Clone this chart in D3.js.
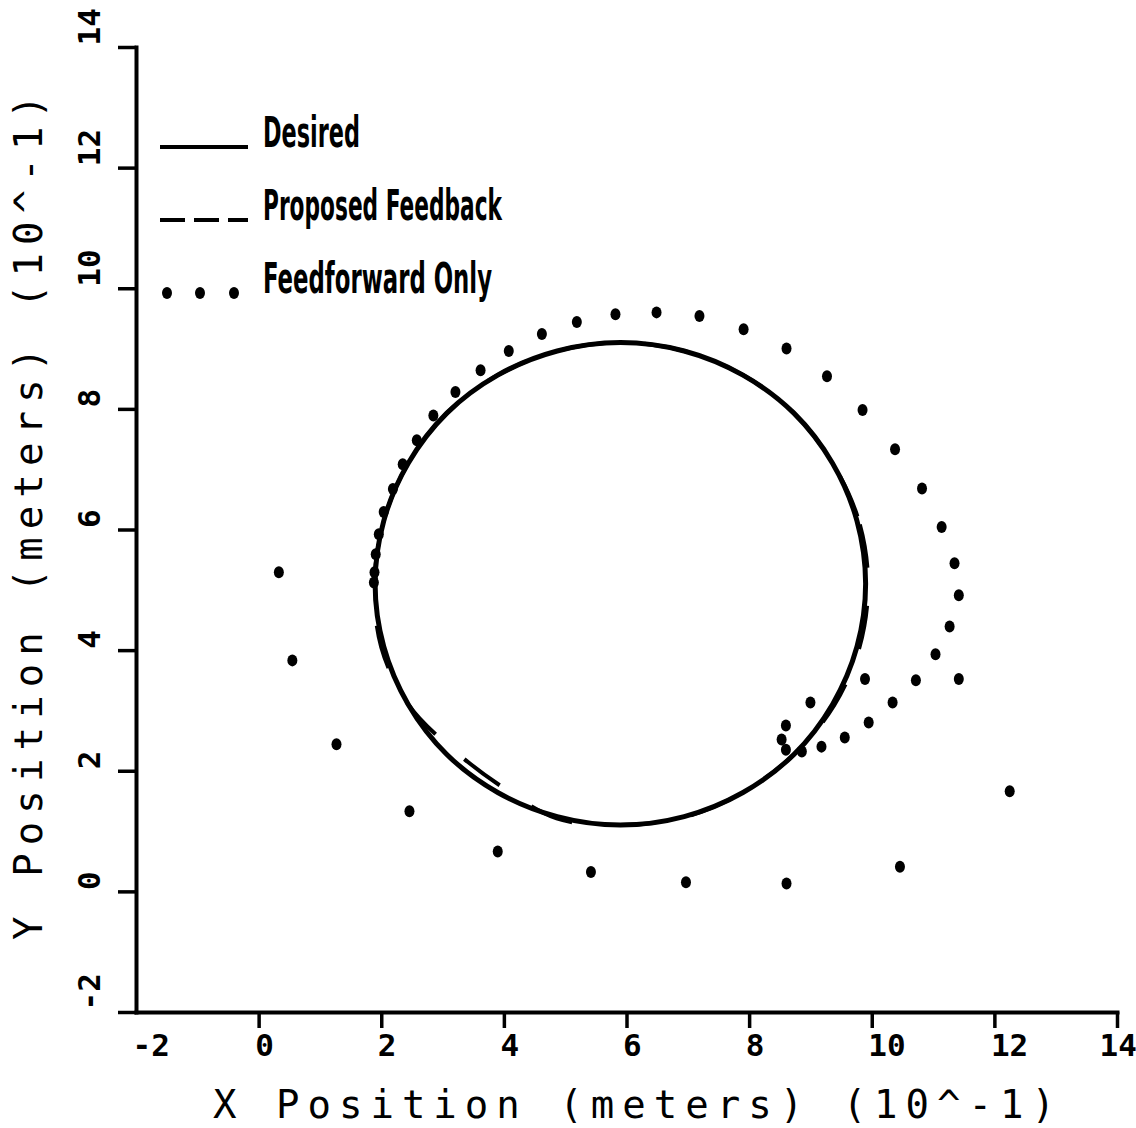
<!DOCTYPE html>
<html>
<head>
<meta charset="utf-8">
<script src="https://cdn.jsdelivr.net/npm/d3@7"></script>
<style>
  html, body { margin: 0; padding: 0; background: #fff; }
  svg { display: block; }
</style>
</head>
<body>
<div id="chart"></div>
<script>
// tick values
const xTicks = [-2, 0, 2, 4, 6, 8, 10, 12, 14];
const yTicks = [-2, 0, 2, 4, 6, 8, 10, 12, 14];

// desired trajectory (x / y in 10^-1 m)
const desiredX = [9.90, 9.76, 9.36, 8.73, 7.90, 6.94, 5.90, 4.87, 3.90, 3.07, 2.44, 2.04,
                  1.90, 2.04, 2.44, 3.07, 3.90, 4.87, 5.90, 6.94, 7.90, 8.73, 9.36, 9.76];
const desiredY = [5.10, 6.14, 7.10, 7.93, 8.56, 8.96, 9.10, 8.96, 8.56, 7.93, 7.10, 6.14,
                  5.10, 4.06, 3.10, 2.27, 1.64, 1.24, 1.10, 1.24, 1.64, 2.27, 3.10, 4.06];

// proposed feedback trajectory
const feedbackX = [9.94, 9.79, 9.36, 8.73, 7.90, 6.94, 5.90, 4.87, 3.90, 3.07, 2.44, 2.04,
                   1.89, 2.00, 2.44, 3.16, 3.96, 4.86, 5.90, 6.94, 7.90, 8.73, 9.39, 9.80];
const feedbackY = [5.10, 6.14, 7.10, 7.93, 8.56, 8.96, 9.10, 8.96, 8.56, 7.93, 7.10, 6.14,
                   5.10, 4.05, 3.10, 2.36, 1.74, 1.21, 1.10, 1.23, 1.64, 2.27, 3.09, 4.05];

// feedforward only samples
const feedforwardX = [1.88, 1.89, 1.91, 1.96, 2.04, 2.19, 2.35, 2.58, 2.85, 3.21, 3.62, 4.08,
                      4.62, 5.19, 5.82, 6.49, 7.19, 7.91, 8.61, 9.27, 9.85, 10.38, 10.82, 11.14,
                      11.35, 11.42, 11.27, 11.04, 10.72, 10.34, 9.95, 9.56, 9.18, 8.86, 8.60, 8.53,
                      8.60, 9.00, 9.89, 11.42, 12.25, 10.46, 8.61, 6.97, 5.42, 3.90, 2.46, 1.27,
                      0.55, 0.33];
const feedforwardY = [5.12, 5.29, 5.59, 5.92, 6.29, 6.67, 7.08, 7.48, 7.89, 8.28, 8.64, 8.96,
                      9.24, 9.44, 9.57, 9.60, 9.54, 9.32, 9.00, 8.54, 7.98, 7.33, 6.68, 6.04,
                      5.44, 4.91, 4.39, 3.93, 3.50, 3.13, 2.80, 2.55, 2.40, 2.32, 2.35, 2.52,
                      2.75, 3.13, 3.52, 3.52, 1.66, 0.41, 0.13, 0.15, 0.32, 0.66, 1.33, 2.44,
                      3.83, 5.29];

const legendLabels = ['Desired', 'Proposed Feedback', 'Feedforward Only'];

const width = 1136;
const height = 1128;
const ink = '#000';
const plotFont = '"DejaVu Sans Mono", "Liberation Mono", monospace';
const legendFont = '"Liberation Sans Narrow", "DejaVu Sans Condensed", "DejaVu Sans", sans-serif';

const svg = d3.select('#chart')
  .append('svg')
  .attr('width', width)
  .attr('height', height)
  .style('background', '#fff');

// scales
const xScale = d3.scaleLinear().domain([-2, 14]).range([136, 1117]);
const yScale = d3.scaleLinear().domain([-2, 14]).range([1012, 47]);

// ************ axes ************
const xAxis = d3.axisBottom(xScale)
  .tickValues(xTicks)
  .tickSize(16)
  .tickSizeOuter(0)
  .tickFormat(d => String(d));

const yAxis = d3.axisLeft(yScale)
  .tickValues(yTicks)
  .tickSize(18)
  .tickSizeOuter(0)
  .tickFormat(d => String(d));

const xAxisGroup = svg.append('g')
  .attr('transform', `translate(0, ${yScale(-2)})`)
  .call(xAxis);

const yAxisGroup = svg.append('g')
  .attr('transform', `translate(${xScale(-2)}, 0)`)
  .call(yAxis);

[xAxisGroup, yAxisGroup].forEach(g => {
  g.select('.domain')
    .attr('stroke', ink)
    .attr('stroke-width', 4)
    .attr('stroke-linecap', 'square');
  g.selectAll('.tick line')
    .attr('stroke', ink)
    .attr('stroke-width', 3.5);
});

// no downward tick in the corner, only the label
xAxisGroup.selectAll('.tick line')
  .filter(d => d === -2)
  .attr('stroke', 'none');

xAxisGroup.selectAll('.tick text')
  .attr('y', 44)
  .attr('dy', 0)
  .attr('x', d => d === 14 ? -18 : -4)
  .attr('text-anchor', 'start')
  .attr('fill', ink)
  .style('font-family', plotFont)
  .style('font-weight', 'bold')
  .style('font-size', '31px');

// y tick labels read bottom-to-top, starting at the tick
yAxisGroup.selectAll('.tick text')
  .attr('x', null)
  .attr('dy', 0)
  .attr('text-anchor', 'start')
  .attr('transform', 'translate(-36, -2) rotate(-90)')
  .attr('fill', ink)
  .style('font-family', plotFont)
  .style('font-weight', 'bold')
  .style('font-size', '31px');

// axis titles
svg.append('text')
  .attr('x', 213)
  .attr('y', 1118)
  .attr('textLength', 842)
  .attr('lengthAdjust', 'spacing')
  .attr('fill', ink)
  .style('font-family', plotFont)
  .style('font-size', '39px')
  .text('X Position (meters) (10^-1)');

svg.append('text')
  .attr('transform', 'translate(42, 940) rotate(-90)')
  .attr('textLength', 845)
  .attr('lengthAdjust', 'spacing')
  .attr('fill', ink)
  .style('font-family', plotFont)
  .style('font-size', '39px')
  .text('Y Position (meters) (10^-1)');

// ************ data ************
const line = d3.line()
  .x(d => xScale(d[0]))
  .y(d => yScale(d[1]))
  .curve(d3.curveCatmullRomClosed);

const desired = desiredX.map((x, i) => [x, desiredY[i]]);
const feedback = feedbackX.map((x, i) => [x, feedbackY[i]]);
const feedforward = feedforwardX.map((x, i) => [x, feedforwardY[i]]);

svg.append('path')
  .datum(desired)
  .attr('fill', 'none')
  .attr('stroke', ink)
  .attr('stroke-width', 5)
  .attr('d', line);

svg.append('path')
  .datum(feedback)
  .attr('fill', 'none')
  .attr('stroke', ink)
  .attr('stroke-width', 4)
  .attr('stroke-dasharray', '44,38')
  .attr('stroke-dashoffset', 77)
  .attr('d', line);

svg.selectAll('ellipse.ff')
  .data(feedforward)
  .enter()
  .append('ellipse')
  .attr('class', 'ff')
  .attr('cx', d => xScale(d[0]))
  .attr('cy', d => yScale(d[1]))
  .attr('rx', 5)
  .attr('ry', 6)
  .attr('fill', ink);

// ************ legend ************
const legendRows = [147, 220, 293];
const legendWidths = [97, 239, 229];
const legend = svg.append('g');

legend.append('line')
  .attr('x1', 160).attr('x2', 248)
  .attr('y1', legendRows[0]).attr('y2', legendRows[0])
  .attr('stroke', ink).attr('stroke-width', 4);

legend.append('line')
  .attr('x1', 160).attr('x2', 248)
  .attr('y1', legendRows[1]).attr('y2', legendRows[1])
  .attr('stroke', ink).attr('stroke-width', 4)
  .attr('stroke-dasharray', '25,9');

legend.selectAll('ellipse')
  .data([167, 200, 234])
  .enter()
  .append('ellipse')
  .attr('cx', d => d)
  .attr('cy', legendRows[2])
  .attr('rx', 5)
  .attr('ry', 6)
  .attr('fill', ink);

legend.selectAll('text')
  .data(legendLabels)
  .enter()
  .append('text')
  .attr('x', 263)
  .attr('y', (d, i) => legendRows[i])
  .attr('textLength', (d, i) => legendWidths[i])
  .attr('lengthAdjust', 'spacingAndGlyphs')
  .attr('fill', ink)
  .style('font-family', legendFont)
  .style('font-weight', 'bold')
  .style('font-size', '42px')
  .text(d => d);
</script>
</body>
</html>
